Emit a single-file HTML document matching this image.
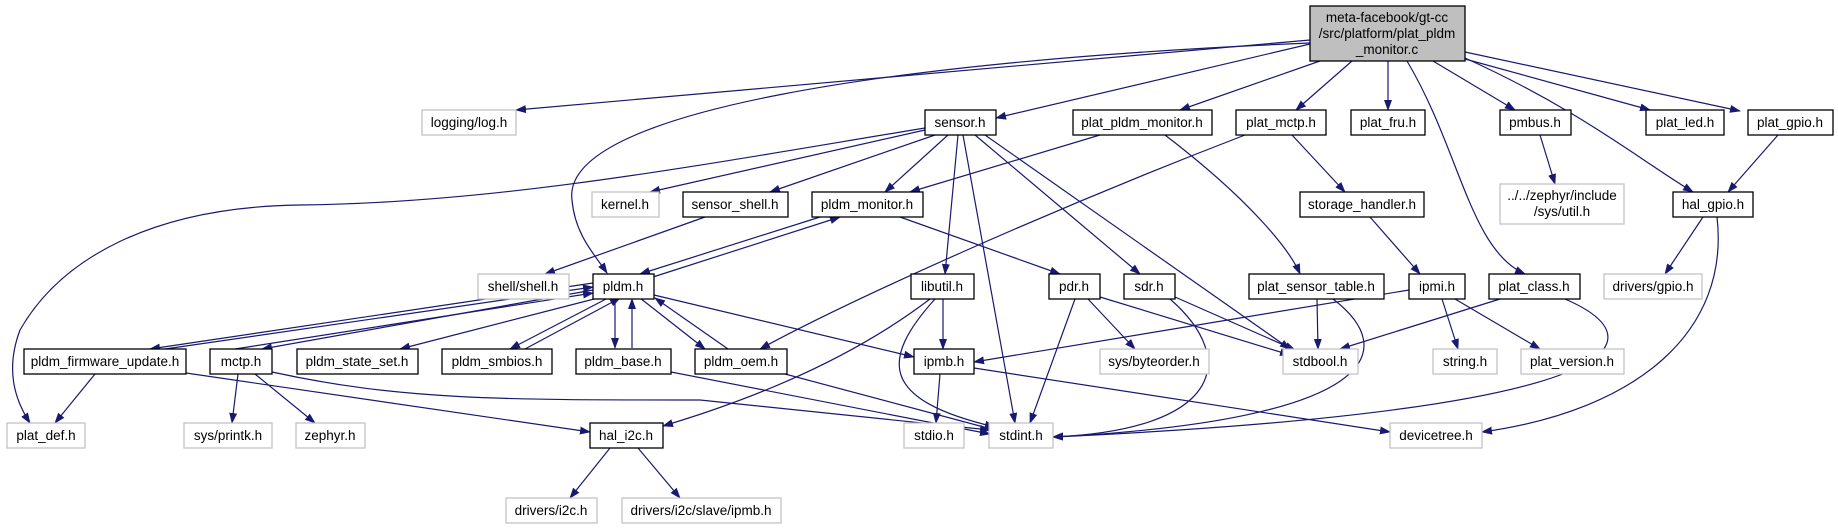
<!DOCTYPE html>
<html><head><meta charset="utf-8"><style>
body{margin:0;background:#fff;}
svg{display:block;}
text{font-family:"Liberation Sans",sans-serif;font-size:13.5px;fill:#000;text-anchor:middle;}
.e{fill:none;stroke:#191970;stroke-width:1.2;marker-end:url(#a);}
.b{fill:#fff;stroke:#000;stroke-width:1.3;}
.g{fill:#fff;stroke:#bfbfbf;stroke-width:1.2;}
</style></head><body>
<svg width="1838" height="529" viewBox="0 0 1838 529" xmlns="http://www.w3.org/2000/svg">
<defs><marker id="a" markerWidth="11" markerHeight="8" refX="10" refY="4" orient="auto" markerUnits="userSpaceOnUse"><polygon points="0,0 11,4 0,8" fill="#191970"/></marker></defs>
<g>
<path class="e" d="M1310,40 L516,110"/>
<path class="e" d="M1310,43 C900,60 560,110 572,200 C575,235 595,255 607,273"/>
<path class="e" d="M1310,44 L996,118"/>
<path class="e" d="M1320,61 L1180,110"/>
<path class="e" d="M1352,61 L1296,110"/>
<path class="e" d="M1388,61 L1388,110"/>
<path class="e" d="M1407,61 C1460,150 1470,250 1525,274"/>
<path class="e" d="M1433,61 L1515,110"/>
<path class="e" d="M1465,58 C1580,110 1640,160 1693,192"/>
<path class="e" d="M1465,59 L1650,110"/>
<path class="e" d="M1465,52 L1740,111"/>
<path class="e" d="M925,128 C700,165 500,203 300,205 C150,207 60,260 20,330 C5,370 15,400 30,423"/>
<path class="e" d="M925,130 L650,192"/>
<path class="e" d="M935,135 L770,192"/>
<path class="e" d="M948,135 L885,192"/>
<path class="e" d="M958,135 L945,274"/>
<path class="e" d="M963,135 L1015,423"/>
<path class="e" d="M975,135 L1140,274"/>
<path class="e" d="M985,135 L1290,349"/>
<path class="e" d="M1100,135 L910,192"/>
<path class="e" d="M1165,135 C1250,200 1290,250 1300,274"/>
<path class="e" d="M1245,135 C1050,210 850,300 760,349"/>
<path class="e" d="M1292,135 L1345,192"/>
<path class="e" d="M1540,135 L1555,184"/>
<path class="e" d="M1778,135 L1728,192"/>
<path class="e" d="M1703,217 L1665,274"/>
<path class="e" d="M1717,217 C1730,330 1640,410 1482,432"/>
<path class="e" d="M705,217 L545,274"/>
<path class="e" d="M820,217 L640,274"/>
<path class="e" d="M653,277 L840,217"/>
<path class="e" d="M900,217 L1060,274"/>
<path class="e" d="M1370,217 L1420,274"/>
<path class="e" d="M593,283 L150,349"/>
<path class="e" d="M165,349 L593,287"/>
<path class="e" d="M593,290 L262,349"/>
<path class="e" d="M235,349 L593,293"/>
<path class="e" d="M598,298 L400,349"/>
<path class="e" d="M608,298 L510,349"/>
<path class="e" d="M525,349 L620,298"/>
<path class="e" d="M615,298 L615,348"/>
<path class="e" d="M632,348 L632,299"/>
<path class="e" d="M640,298 L705,349"/>
<path class="e" d="M728,349 L655,298"/>
<path class="e" d="M654,295 L914,357"/>
<path class="e" d="M95,374 L55,423"/>
<path class="e" d="M186,373 L590,432"/>
<path class="e" d="M238,374 L232,423"/>
<path class="e" d="M255,374 L315,423"/>
<path class="e" d="M272,372 C400,400 500,400 700,400 L990,430"/>
<path class="e" d="M671,372 L990,434"/>
<path class="e" d="M785,374 L995,430"/>
<path class="e" d="M930,299 C850,360 750,400 663,426"/>
<path class="e" d="M943,299 L943,349"/>
<path class="e" d="M935,299 C880,360 880,400 995,427"/>
<path class="e" d="M1088,299 L1135,349"/>
<path class="e" d="M1075,299 L1030,423"/>
<path class="e" d="M1100,297 L1290,355"/>
<path class="e" d="M1175,297 L1295,350"/>
<path class="e" d="M1170,299 C1240,360 1220,430 1053,437"/>
<path class="e" d="M1317,299 L1318,349"/>
<path class="e" d="M1333,299 C1400,350 1380,420 1053,437"/>
<path class="e" d="M1409,290 L974,362"/>
<path class="e" d="M1442,299 L1458,349"/>
<path class="e" d="M1455,299 L1540,349"/>
<path class="e" d="M1500,299 L1340,349"/>
<path class="e" d="M1565,299 C1660,340 1640,410 1053,437"/>
<path class="e" d="M940,374 L936,423"/>
<path class="e" d="M974,368 L1390,432"/>
<path class="e" d="M610,448 L570,498"/>
<path class="e" d="M638,448 L680,498"/>
</g>
<g>
<rect x="1310" y="6" width="155" height="55" fill="#bfbfbf" stroke="#000" stroke-width="1.3"/>
<text x="1387" y="22">meta-facebook/gt-cc</text>
<text x="1387" y="38">/src/platform/plat_pldm</text>
<text x="1387" y="54">_monitor.c</text>

<rect class="g" x="422" y="110" width="94" height="25"/><text x="469" y="127">logging/log.h</text>
<rect class="b" x="925" y="110" width="71" height="25"/><text x="960" y="127">sensor.h</text>
<rect class="b" x="1073" y="110" width="139" height="25"/><text x="1142" y="127">plat_pldm_monitor.h</text>
<rect class="b" x="1236" y="110" width="90" height="25"/><text x="1281" y="127">plat_mctp.h</text>
<rect class="b" x="1351" y="110" width="74" height="25"/><text x="1388" y="127">plat_fru.h</text>
<rect class="b" x="1500" y="110" width="71" height="25"/><text x="1535" y="127">pmbus.h</text>
<rect class="b" x="1646" y="110" width="78" height="25"/><text x="1685" y="127">plat_led.h</text>
<rect class="b" x="1748" y="110" width="85" height="25"/><text x="1790" y="127">plat_gpio.h</text>

<rect class="g" x="592" y="192" width="67" height="25"/><text x="625" y="209">kernel.h</text>
<rect class="b" x="683" y="192" width="105" height="25"/><text x="735" y="209">sensor_shell.h</text>
<rect class="b" x="812" y="192" width="111" height="25"/><text x="867" y="209">pldm_monitor.h</text>
<rect class="b" x="1300" y="192" width="124" height="25"/><text x="1362" y="209">storage_handler.h</text>
<rect class="g" x="1500" y="184" width="124" height="40"/><text x="1562" y="200">../../zephyr/include</text><text x="1562" y="216">/sys/util.h</text>
<rect class="b" x="1673" y="192" width="80" height="25"/><text x="1713" y="209">hal_gpio.h</text>

<rect class="g" x="478" y="274" width="91" height="25"/><text x="523" y="291">shell/shell.h</text>
<rect class="b" x="593" y="274" width="61" height="25"/><text x="623" y="291">pldm.h</text>
<rect class="b" x="911" y="274" width="63" height="25"/><text x="942" y="291">libutil.h</text>
<rect class="b" x="1049" y="274" width="51" height="25"/><text x="1074" y="291">pdr.h</text>
<rect class="b" x="1124" y="274" width="51" height="25"/><text x="1149" y="291">sdr.h</text>
<rect class="b" x="1249" y="274" width="135" height="25"/><text x="1316" y="291">plat_sensor_table.h</text>
<rect class="b" x="1409" y="274" width="56" height="25"/><text x="1437" y="291">ipmi.h</text>
<rect class="b" x="1489" y="274" width="91" height="25"/><text x="1534" y="291">plat_class.h</text>
<rect class="g" x="1604" y="274" width="98" height="25"/><text x="1653" y="291">drivers/gpio.h</text>

<rect class="b" x="24" y="349" width="162" height="25"/><text x="105" y="366">pldm_firmware_update.h</text>
<rect class="b" x="210" y="349" width="62" height="25"/><text x="241" y="366">mctp.h</text>
<rect class="b" x="297" y="349" width="121" height="25"/><text x="357" y="366">pldm_state_set.h</text>
<rect class="b" x="442" y="349" width="110" height="25"/><text x="497" y="366">pldm_smbios.h</text>
<rect class="b" x="576" y="349" width="95" height="25"/><text x="623" y="366">pldm_base.h</text>
<rect class="b" x="695" y="349" width="92" height="25"/><text x="741" y="366">pldm_oem.h</text>
<rect class="b" x="914" y="349" width="60" height="25"/><text x="944" y="366">ipmb.h</text>
<rect class="g" x="1100" y="349" width="109" height="25"/><text x="1154" y="366">sys/byteorder.h</text>
<rect class="g" x="1283" y="349" width="75" height="25"/><text x="1320" y="366">stdbool.h</text>
<rect class="g" x="1433" y="349" width="64" height="25"/><text x="1465" y="366">string.h</text>
<rect class="g" x="1521" y="349" width="103" height="25"/><text x="1572" y="366">plat_version.h</text>

<rect class="g" x="7" y="423" width="78" height="25"/><text x="46" y="440">plat_def.h</text>
<rect class="g" x="184" y="423" width="88" height="25"/><text x="228" y="440">sys/printk.h</text>
<rect class="g" x="296" y="423" width="69" height="25"/><text x="330" y="440">zephyr.h</text>
<rect class="b" x="590" y="423" width="73" height="25"/><text x="626" y="440">hal_i2c.h</text>
<rect class="g" x="904" y="423" width="60" height="25"/><text x="934" y="440">stdio.h</text>
<rect class="g" x="989" y="423" width="64" height="25"/><text x="1021" y="440">stdint.h</text>
<rect class="g" x="1390" y="423" width="92" height="25"/><text x="1436" y="440">devicetree.h</text>

<rect class="g" x="506" y="498" width="91" height="25"/><text x="551" y="515">drivers/i2c.h</text>
<rect class="g" x="622" y="498" width="159" height="25"/><text x="701" y="515">drivers/i2c/slave/ipmb.h</text>
</g>
</svg>
</body></html>
